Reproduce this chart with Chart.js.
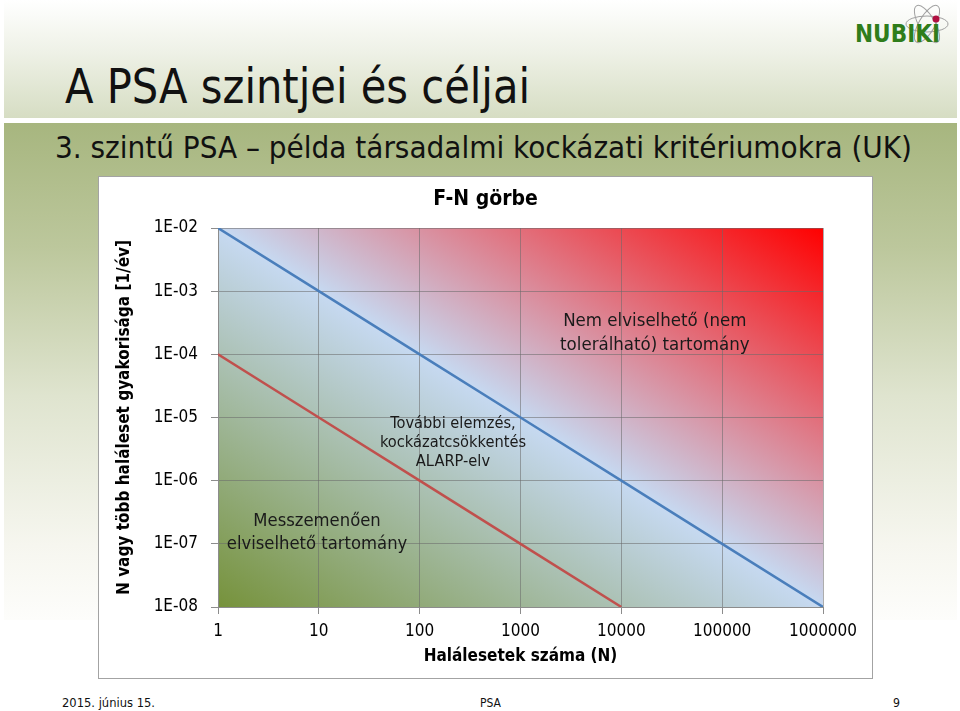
<!DOCTYPE html>
<html><head><meta charset="utf-8">
<script src="https://cdn.jsdelivr.net/npm/chart.js@4/dist/chart.umd.min.js"></script>
<style>
html,body{margin:0;padding:0;background:#fff;}
body{width:960px;height:711px;position:relative;overflow:hidden;font-family:'DejaVu Sans Condensed','DejaVu Sans',sans-serif;}
#hdr{position:absolute;left:4px;top:0;width:953px;height:118px;background:linear-gradient(to bottom,#ffffff 0%,#eef1e6 45%,#d6ddc3 100%);}
#band{position:absolute;left:4px;top:123px;width:953px;height:497px;background:linear-gradient(to bottom,#a7b67f 0%,#bcc79c 25%,#dfe4cf 55%,#f6f6ef 85%,#fdfdfb 100%);}
.txt{position:absolute;white-space:nowrap;transform-origin:0 0;color:#111;}
#title{left:65px;top:62px;font-size:48px;line-height:48px;}
#sub{left:55px;top:133px;font-size:30px;line-height:30px;}
.foot{position:absolute;top:696px;font-size:13px;line-height:13px;white-space:nowrap;color:#111;transform-origin:0 0;}
#box{position:absolute;left:98px;top:176px;width:775px;height:503px;box-sizing:border-box;border:1px solid #a3a3a3;background:#fff;}
#c{position:absolute;left:0;top:0;}
#logo{position:absolute;left:845px;top:0;}
</style></head>
<body>
<div id="hdr"></div>
<div id="band"></div>
<div id="title" class="txt" data-w="465">A PSA szintjei és céljai</div>
<div id="sub" class="txt" data-w="857">3. szintű PSA – példa társadalmi kockázati kritériumokra (UK)</div>
<svg id="logo" width="115" height="55" viewBox="0 0 115 55">
  <g fill="none" stroke="#a0a0a0" stroke-width="1">
    <ellipse cx="82" cy="24" rx="21" ry="8"/>
    <ellipse cx="82" cy="24" rx="21" ry="8" transform="rotate(60 82 24)"/>
    <ellipse cx="82" cy="24" rx="21" ry="8" transform="rotate(120 82 24)"/>
  </g>
  <text x="10" y="42" font-family="'DejaVu Sans Condensed','DejaVu Sans',sans-serif" font-weight="bold" font-size="25" fill="#2f7d1b" textLength="85" lengthAdjust="spacingAndGlyphs">NUBIKI</text>
  <circle cx="91" cy="19" r="3.5" fill="#b01040"/>
</svg>
<div id="box"><canvas id="c" width="773" height="501"></canvas></div>
<div class="foot" id="f1" style="left:62px" data-w="93">2015. június 15.</div>
<div class="foot" id="f2" style="left:480px" data-w="21">PSA</div>
<div class="foot" id="f3" style="left:893px" data-w="7">9</div>
<script>
// ---- data ----
const xTickValues = [1, 10, 100, 1000, 10000, 100000, 1000000];
const xTickLabels = ['1', '10', '100', '1000', '10000', '100000', '1000000'];
const yTickValues = [1e-8, 1e-7, 1e-6, 1e-5, 1e-4, 1e-3, 1e-2];
const yTickLabels = ['1E-08', '1E-07', '1E-06', '1E-05', '1E-04', '1E-03', '1E-02'];
const upperN = [1, 10, 100, 1000, 10000, 100000, 1000000];
const upperF = [1e-2, 1e-3, 1e-4, 1e-5, 1e-6, 1e-7, 1e-8];
const lowerN = [1, 10, 100, 1000, 10000];
const lowerF = [1e-4, 1e-5, 1e-6, 1e-7, 1e-8];
const regionTexts = [
  ['Nem elviselhető (nem', 'tolerálható) tartomány'],
  ['További elemzés,', 'kockázatcsökkentés', 'ALARP-elv'],
  ['Messzemenően', 'elviselhető tartomány']
];
const regionN = [21500, 214, 9.6];
const regionF = [2.2e-4, 3.95e-6, 1.51e-7];

// ---- header text fitting ----
document.querySelectorAll('[data-w]').forEach(el => {
  const w = el.getBoundingClientRect().width;
  const target = parseFloat(el.dataset.w);
  el.style.transform = 'scaleX(' + (target / w) + ')';
});

const FAM = "'DejaVu Sans Condensed', 'DejaVu Sans', sans-serif";
const GRID = 'rgba(105,105,105,0.55)';
const regionStyle = [{size: 18.5, lh: 24}, {size: 16.3, lh: 19}, {size: 18.3, lh: 23}];

const bgPlugin = {
  id: 'bg',
  beforeDraw(chart) {
    const {ctx, chartArea: a} = chart;
    const W = a.right - a.left, H = a.bottom - a.top;
    const t = 2 * W * H / (W * W + H * H);
    const g = ctx.createLinearGradient(a.left, a.bottom, a.left + t * H, a.bottom - t * W);
    g.addColorStop(0, '#76923b');
    g.addColorStop(0.5, '#c6d9f1');
    g.addColorStop(1, '#ff0000');
    ctx.save();
    ctx.fillStyle = g;
    ctx.fillRect(a.left, a.top, W, H);
    ctx.restore();
  }
};
const textPlugin = {
  id: 'regionText',
  afterDraw(chart) {
    const {ctx, scales: {x, y}} = chart;
    ctx.save();
    ctx.fillStyle = '#1a1a1a';
    ctx.textAlign = 'center';
    ctx.textBaseline = 'middle';
    regionTexts.forEach((lines, i) => {
      const st = regionStyle[i];
      ctx.font = st.size + 'px ' + FAM;
      const cx = x.getPixelForValue(regionN[i]);
      const cy = y.getPixelForValue(regionF[i]);
      const y0 = cy - (lines.length - 1) * st.lh / 2;
      lines.forEach((ln, j) => ctx.fillText(ln, cx, y0 + j * st.lh));
    });
    ctx.restore();
  }
};

new Chart(document.getElementById('c'), {
  type: 'scatter',
  data: {
    datasets: [
      {data: upperN.map((n, i) => ({x: n, y: upperF[i]})), showLine: true, borderColor: '#4a7ebb', borderWidth: 2.5, pointRadius: 0, fill: false},
      {data: lowerN.map((n, i) => ({x: n, y: lowerF[i]})), showLine: true, borderColor: '#c0504d', borderWidth: 2.5, pointRadius: 0, fill: false}
    ]
  },
  options: {
    responsive: false,
    animation: false,
    layout: {padding: 0},
    plugins: {
      legend: {display: false},
      tooltip: {enabled: false},
      title: {display: true, text: 'F-N görbe', color: '#000', font: {family: FAM, size: 21, weight: 'bold'}, padding: {top: 10.2, bottom: 15.6}}
    },
    scales: {
      x: {
        type: 'logarithmic', position: 'bottom', min: 1, max: 1000000,
        afterBuildTicks: s => { s.ticks = xTickValues.map(v => ({value: v})); },
        afterFit: s => { s.height = 71; s.paddingRight = 49; },
        ticks: {autoSkip: false, maxRotation: 0, minRotation: 0, padding: 7.8, color: '#000', font: {family: FAM, size: 17},
                callback: (v, i) => xTickLabels[i]},
        grid: {color: GRID, tickColor: '#8c8c8c', tickLength: 7, lineWidth: 1},
        border: {color: '#8c8c8c'},
        title: {display: true, text: 'Halálesetek száma (N)', color: '#000', font: {family: FAM, size: 17, weight: 'bold'}, padding: {top: 0, bottom: 10.8}}
      },
      y: {
        type: 'logarithmic', position: 'left', min: 1e-8, max: 1e-2,
        afterBuildTicks: s => { s.ticks = yTickValues.map(v => ({value: v})); },
        afterFit: s => { s.width = 119; },
        ticks: {autoSkip: false, padding: 13, color: '#000', font: {family: FAM, size: 17},
                callback: (v, i) => yTickLabels[i]},
        grid: {color: GRID, tickColor: '#8c8c8c', tickLength: 7, lineWidth: 1},
        border: {color: '#8c8c8c'},
        title: {display: true, text: 'N vagy több haláleset gyakorisága [1/év]', color: '#000', font: {family: FAM, size: 17, weight: 'bold'}, padding: {top: 15.8, bottom: 0}}
      }
    }
  },
  plugins: [bgPlugin, textPlugin]
});
</script>
</body></html>
